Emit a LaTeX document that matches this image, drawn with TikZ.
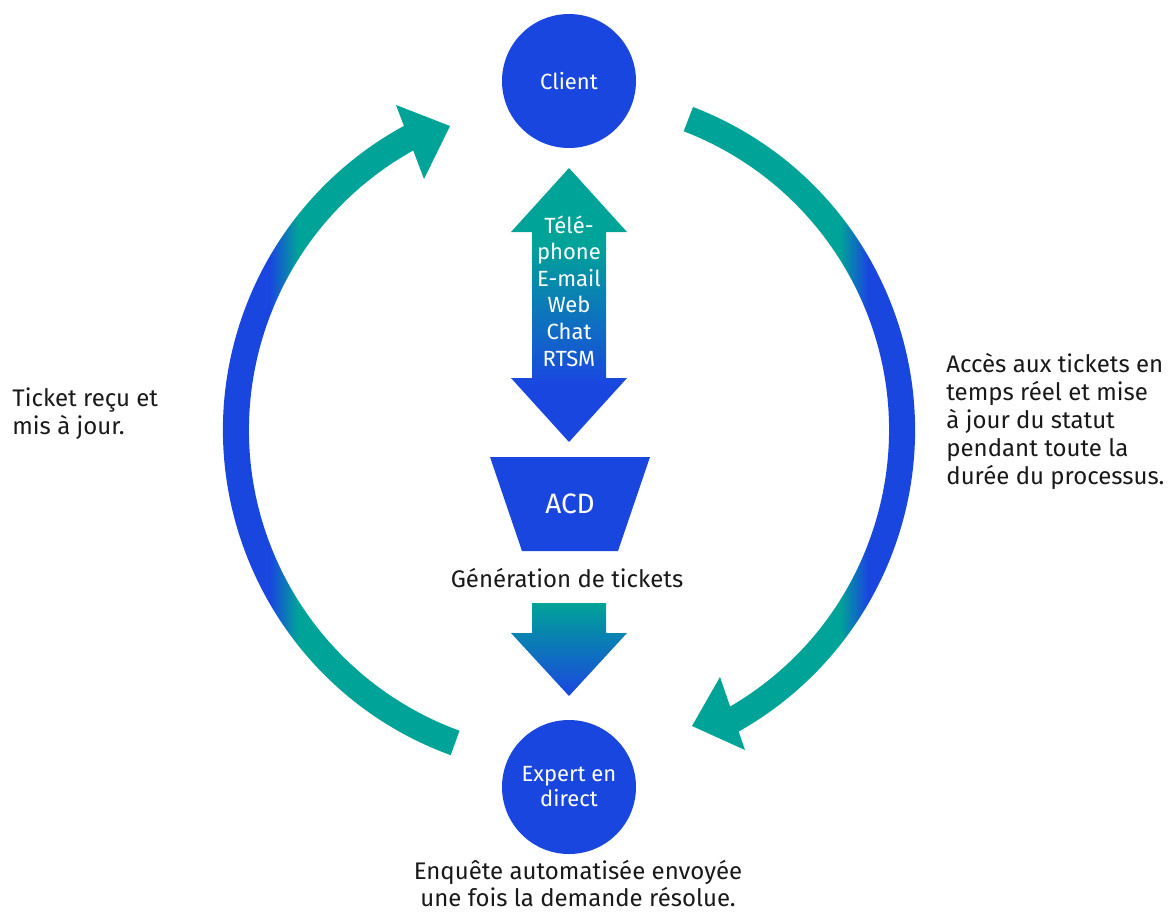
\documentclass[tikz,border=0pt]{standalone}
\usepackage{fontspec}
\setmainfont{Fira Sans}
\definecolor{acblue}{HTML}{1A46E0}
\definecolor{acteal}{HTML}{00A398}

\begin{document}
\begin{tikzpicture}[x=0.5pt, y=-0.5pt,
    hub/.style={circle, fill=acblue, minimum size=67pt, inner sep=0pt, text=white,
      align=center, font=\fontsize{11}{12.5}\selectfont},
    note/.style={text=black!90, inner sep=0pt, font=\fontsize{12}{14}\selectfont}]
  \useasboundingbox (0,0) rectangle (1168,912);

  % Client and expert
  \node[hub] (client) at (569,81) {Client};
  \node[hub] (expert) at (569,787) {Expert en\\direct};
  \coordinate (loop) at (569,430);

  % Left loop: expert back to client
  \begin{scope}
    \clip ([shift={(loop)}]110:346) arc[start angle=110, end angle=243, radius=346]
      -- ([shift={(loop)}]243:320) arc[start angle=243, end angle=110, radius=320] -- cycle;
    \fill[acblue] (200,80) rectangle (270,780);
    \shade[left color=acblue, right color=acteal] (270,80) rectangle (298,780);
    \fill[acteal] (298,80) rectangle (480,780);
  \end{scope}
  \fill[acteal] (396,105) -- (450,126) -- (424,179) -- cycle;

  % Right loop: client down to expert
  \begin{scope}
    \clip ([shift={(loop)}]-69:346) arc[start angle=-69, end angle=62, radius=346]
      -- ([shift={(loop)}]62:320) arc[start angle=62, end angle=-69, radius=320] -- cycle;
    \fill[acteal] (660,80) rectangle (840,780);
    \shade[left color=acteal, right color=acblue] (840,80) rectangle (868,780);
    \fill[acblue] (868,80) rectangle (940,780);
  \end{scope}
  \fill[acteal] (720,677) -- (692,726) -- (745,750) -- cycle;

  % Channels (double arrow)
  \begin{scope}
    \clip (569,168) -- (627,232) -- (606,232) -- (606,378) -- (627,378) -- (569,442)
      -- (511,378) -- (532,378) -- (532,232) -- (511,232) -- cycle;
    \fill[acteal] (500,160) rectangle (640,245);
    \shade[top color=acteal, bottom color=acblue] (500,245) rectangle (640,385);
    \fill[acblue] (500,385) rectangle (640,450);
  \end{scope}
  \node[text=white, align=center, font=\fontsize{11}{13.3}\selectfont] (channels) at (569,291)
    {Télé-\\phone\\E-mail\\Web\\Chat\\RTSM};

  % ACD and ticket generation
  \fill[acblue] (490,457) -- (650,457) -- (618,551) -- (522,551) -- cycle;
  \node[text=white, font=\fontsize{14}{16}\selectfont] (acd) at (570,504) {ACD};
  \node[note] (gen) at (567,578) {Génération de tickets};
  \shade[top color=acteal, bottom color=acblue] (532,603) -- (606,603) -- (606,633)
    -- (627,633) -- (569,696) -- (511,633) -- (532,633) -- cycle;

  % Side and bottom notes
  \node[note, anchor=west, align=left] (recu) at (12,414) {Ticket reçu et\\mis à jour.};
  \node[note, anchor=west, align=left] (acces) at (946,421)
    {Accès aux tickets en\\temps réel et mise\\à jour du statut\\pendant toute la\\durée du processus.};
  \node[note, align=center, font=\fontsize{12}{13.5}\selectfont] (survey) at (578,884)
    {Enquête automatisée envoyée\\une fois la demande résolue.};
\end{tikzpicture}
\end{document}
